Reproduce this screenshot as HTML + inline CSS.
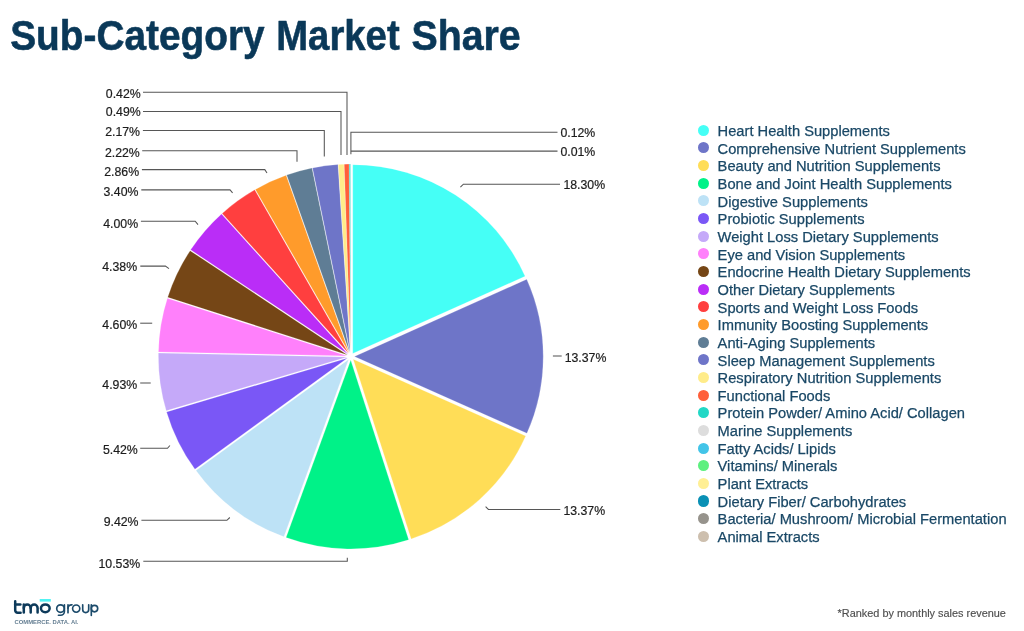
<!DOCTYPE html>
<html><head><meta charset="utf-8"><title>Sub-Category Market Share</title>
<style>
html,body{margin:0;padding:0;background:#fff;}
body{width:1024px;height:631px;position:relative;overflow:hidden;font-family:"Liberation Sans",sans-serif;-webkit-font-smoothing:antialiased;}
.gs{position:absolute;left:0;top:0;width:1024px;height:631px;will-change:transform;}
.tw{position:absolute;top:9.40px;font-size:43px;line-height:50px;font-weight:bold;color:#0a3858;white-space:nowrap;transform-origin:0 0;-webkit-text-stroke:0.6px #0a3858;}
svg.chart{position:absolute;left:0;top:0;}
.lb{position:absolute;font-size:12.3px;line-height:14px;color:#1c1c1c;white-space:nowrap;-webkit-text-stroke:0.2px #1c1c1c;}
.dot{position:absolute;left:698.15px;width:11.1px;height:11.1px;border-radius:50%;}
.lg{position:absolute;left:717.6px;font-size:14.7px;line-height:18px;color:#1a4866;white-space:nowrap;-webkit-text-stroke:0.25px #1a4866;}
.note{position:absolute;left:837.6px;top:606.2px;font-size:10.9px;line-height:14px;color:#4e4e4e;white-space:nowrap;-webkit-text-stroke:0.15px #4e4e4e;}
</style></head><body>
<svg class="gs" width="1024" height="80" viewBox="0 0 1024 80" style="height:80px"><g font-family="Liberation Sans, sans-serif" font-weight="bold" font-size="43" fill="#0a3858" stroke="#0a3858" stroke-width="0.6" stroke-linejoin="round"><text transform="translate(10.22,49.75) scale(0.9028,1)">Sub-Category</text><text transform="translate(276.16,49.75) scale(0.8912,1)">Market</text><text transform="translate(411.41,49.75) scale(0.9146,1)">Share</text></g></svg>
<svg class="chart" width="1024" height="631" viewBox="0 0 1024 631">
<g stroke="#fff" stroke-width="0.2" stroke-linejoin="round">
<path d="M352.76,353.48 L352.76,164.63 A188.85,188.85 0 0 1 525.11,276.29 Z" fill="#45fff6"/>
<path d="M354.40,356.50 L526.75,279.30 A188.85,188.85 0 0 1 526.92,433.31 Z" fill="#6e75c8"/>
<path d="M353.21,359.18 L525.73,435.99 A188.85,188.85 0 0 1 411.16,538.91 Z" fill="#ffdd57"/>
<path d="M350.73,360.10 L408.69,539.84 A188.85,188.85 0 0 1 286.04,537.52 Z" fill="#00f288"/>
<path d="M348.63,359.38 L283.94,536.80 A188.85,188.85 0 0 1 195.97,470.54 Z" fill="#bde2f6"/>
<path d="M347.57,358.10 L194.91,469.26 A188.85,188.85 0 0 1 166.55,411.89 Z" fill="#7a57f6"/>
<path d="M347.23,356.98 L166.21,410.77 A188.85,188.85 0 0 1 158.42,353.04 Z" fill="#c5a9f9"/>
<path d="M347.25,355.91 L158.44,351.96 A188.85,188.85 0 0 1 167.39,298.32 Z" fill="#ff80fb"/>
<path d="M347.55,354.94 L167.70,297.35 A188.85,188.85 0 0 1 190.11,250.65 Z" fill="#754616"/>
<path d="M348.07,354.15 L190.63,249.86 A188.85,188.85 0 0 1 221.51,213.98 Z" fill="#ba2df7"/>
<path d="M348.69,353.59 L222.13,213.42 A188.85,188.85 0 0 1 254.72,189.78 Z" fill="#ff3f3f"/>
<path d="M349.30,353.23 L255.33,189.42 A188.85,188.85 0 0 1 286.11,175.26 Z" fill="#ff9b2b"/>
<path d="M349.83,353.03 L286.65,175.06 A188.85,188.85 0 0 1 312.01,168.01 Z" fill="#5f7d95"/>
<path d="M350.32,352.93 L312.49,167.91 A188.85,188.85 0 0 1 337.99,164.49 Z" fill="#6e75c8"/>
<path d="M350.62,352.90 L338.29,164.46 A188.85,188.85 0 0 1 344.10,164.17 Z" fill="#ffec8a"/>
<path d="M350.72,352.90 L344.20,164.16 A188.85,188.85 0 0 1 349.18,164.06 Z" fill="#ff5f3a"/>
<path d="M350.78,352.90 L349.24,164.06 A188.85,188.85 0 0 1 350.67,164.05 Z" fill="#22d8c6"/>
<path d="M350.80,352.90 L350.68,164.05 A188.85,188.85 0 0 1 350.80,164.05 Z" fill="#dddddd"/>
</g>
<g fill="none" stroke="#565656" stroke-width="1.05">
<polyline points="143,92.3 347,92.3 347,155"/>
<polyline points="143,111.45 341,111.45 341,155"/>
<polyline points="142.9,130.4 324.3,130.4 324.3,156.4"/>
<polyline points="142.2,150.8 297,150.8 297,161.8"/>
<polyline points="141.9,169.6 264.8,169.6 267,173"/>
<polyline points="141.3,189.85 230,189.85 232.6,192.8"/>
<polyline points="140.9,221.2 195.2,221.2 198,224.7"/>
<polyline points="140.3,266.1 165.4,266.1 169,268.6"/>
<polyline points="140.2,323.2 152.2,323.2"/>
<polyline points="140.2,383 150.7,383"/>
<polyline points="140.2,448.3 167.5,448.3 169.9,445.5"/>
<polyline points="141.4,520.3 226.9,520.3 229.8,517.5"/>
<polyline points="143.3,561.2 347.3,561.2 347.3,557.8"/>
<polyline points="557.5,132.3 350.9,132.3 350.9,154.2"/>
<polyline points="557.5,151.1 350.9,151.1"/>
<polyline points="560,184.2 463.4,184.2 460.4,187.1"/>
<polyline points="561.7,356 552.9,356"/>
<polyline points="560.3,509.4 488.4,509.4 485.6,506.6"/>
</g>
<g fill="none" stroke="#0d3a5a" stroke-width="2.5" stroke-linecap="round" stroke-linejoin="round">
<path d="M15.2,601.2 V610.3 a2.4,2.4 0 0 0 2.4,2.4 H20.6"/>
<path d="M15.2,604.5 H20.4"/>
<path d="M23.8,612.6 V604.6"/>
<path d="M23.8,607.9 a3.45,3.3 0 0 1 6.9,0 V612.6"/>
<path d="M30.7,607.9 a3.45,3.3 0 0 1 6.9,0 V612.6"/>
<ellipse cx="45.3" cy="608.3" rx="4.35" ry="3.9"/>
</g>
<rect x="39.7" y="599" width="11.1" height="2.6" fill="#52f3f3"/>
<g fill="none" stroke="#1c4b6b" stroke-width="1.65" stroke-linecap="round" stroke-linejoin="round">
<circle cx="60.5" cy="608.6" r="3.8"/>
<path d="M64.4,604.8 V611.4 a3.8,3.8 0 0 1 -3.8,3.8 h-2.2"/>
<path d="M68,604.8 V612.8"/>
<path d="M68,608.2 a3.4,3.4 0 0 1 3.4,-3.4 h0.6"/>
<circle cx="76.2" cy="608.6" r="3.6"/>
<path d="M82.7,604.8 V609.6 a3,3 0 0 0 6,0 V604.8"/>
<path d="M91.3,604.8 V615.4"/>
<circle cx="94.5" cy="608.6" r="3.2"/>
</g>
<text x="14.6" y="624.2" font-family="Liberation Sans, sans-serif" font-weight="bold" font-size="5.4" fill="#647e92" textLength="63.9" lengthAdjust="spacingAndGlyphs">COMMERCE. DATA. AI.</text>

</svg>
<div class="gs">
<div class="lb" style="right:883.3px;top:87px">0.42%</div>
<div class="lb" style="right:883.3px;top:105px">0.49%</div>
<div class="lb" style="right:884.0px;top:125px">2.17%</div>
<div class="lb" style="right:884.2px;top:146px">2.22%</div>
<div class="lb" style="right:884.9px;top:165px">2.86%</div>
<div class="lb" style="right:885.6px;top:185px">3.40%</div>
<div class="lb" style="right:885.9px;top:217px">4.00%</div>
<div class="lb" style="right:886.9px;top:260px">4.38%</div>
<div class="lb" style="right:886.8px;top:318px">4.60%</div>
<div class="lb" style="right:886.8px;top:378px">4.93%</div>
<div class="lb" style="right:886.2px;top:443px">5.42%</div>
<div class="lb" style="right:885.5px;top:515px">9.42%</div>
<div class="lb" style="right:883.8px;top:557px">10.53%</div>
<div class="lb" style="left:560.4px;top:126px">0.12%</div>
<div class="lb" style="left:560.4px;top:145px">0.01%</div>
<div class="lb" style="left:563.4px;top:178px">18.30%</div>
<div class="lb" style="left:564.7px;top:351px">13.37%</div>
<div class="lb" style="left:563.4px;top:504px">13.37%</div>

<div class="dot" style="top:124.75px;background:#45fff6"></div><div class="lg" style="top:122.01px">Heart Health Supplements</div>
<div class="dot" style="top:142.40px;background:#6e75c8"></div><div class="lg" style="top:139.66px">Comprehensive Nutrient Supplements</div>
<div class="dot" style="top:160.06px;background:#ffdd57"></div><div class="lg" style="top:157.31px">Beauty and Nutrition Supplements</div>
<div class="dot" style="top:177.71px;background:#00f288"></div><div class="lg" style="top:174.97px">Bone and Joint Health Supplements</div>
<div class="dot" style="top:195.37px;background:#bde2f6"></div><div class="lg" style="top:192.62px">Digestive Supplements</div>
<div class="dot" style="top:213.02px;background:#7a57f6"></div><div class="lg" style="top:210.28px">Probiotic Supplements</div>
<div class="dot" style="top:230.67px;background:#c5a9f9"></div><div class="lg" style="top:227.93px">Weight Loss Dietary Supplements</div>
<div class="dot" style="top:248.33px;background:#ff80fb"></div><div class="lg" style="top:245.58px">Eye and Vision Supplements</div>
<div class="dot" style="top:265.98px;background:#754616"></div><div class="lg" style="top:263.24px">Endocrine Health Dietary Supplements</div>
<div class="dot" style="top:283.64px;background:#ba2df7"></div><div class="lg" style="top:280.89px">Other Dietary Supplements</div>
<div class="dot" style="top:301.29px;background:#ff3f3f"></div><div class="lg" style="top:298.55px">Sports and Weight Loss Foods</div>
<div class="dot" style="top:318.94px;background:#ff9b2b"></div><div class="lg" style="top:316.20px">Immunity Boosting Supplements</div>
<div class="dot" style="top:336.60px;background:#5f7d95"></div><div class="lg" style="top:333.85px">Anti-Aging Supplements</div>
<div class="dot" style="top:354.25px;background:#6e75c8"></div><div class="lg" style="top:351.51px">Sleep Management Supplements</div>
<div class="dot" style="top:371.91px;background:#ffec8a"></div><div class="lg" style="top:369.16px">Respiratory Nutrition Supplements</div>
<div class="dot" style="top:389.56px;background:#ff5f3a"></div><div class="lg" style="top:386.82px">Functional Foods</div>
<div class="dot" style="top:407.21px;background:#22d8c6"></div><div class="lg" style="top:404.47px">Protein Powder/ Amino Acid/ Collagen</div>
<div class="dot" style="top:424.87px;background:#dddddd"></div><div class="lg" style="top:422.12px">Marine Supplements</div>
<div class="dot" style="top:442.52px;background:#42c4e8"></div><div class="lg" style="top:439.78px">Fatty Acids/ Lipids</div>
<div class="dot" style="top:460.18px;background:#5df07f"></div><div class="lg" style="top:457.43px">Vitamins/ Minerals</div>
<div class="dot" style="top:477.83px;background:#ffef94"></div><div class="lg" style="top:475.09px">Plant Extracts</div>
<div class="dot" style="top:495.48px;background:#0a90b5"></div><div class="lg" style="top:492.74px">Dietary Fiber/ Carbohydrates</div>
<div class="dot" style="top:513.14px;background:#96938c"></div><div class="lg" style="top:510.39px">Bacteria/ Mushroom/ Microbial Fermentation</div>
<div class="dot" style="top:530.79px;background:#cdbfae"></div><div class="lg" style="top:528.05px">Animal Extracts</div>

<div class="note">*Ranked by monthly sales revenue</div>
</div>
</body></html>
